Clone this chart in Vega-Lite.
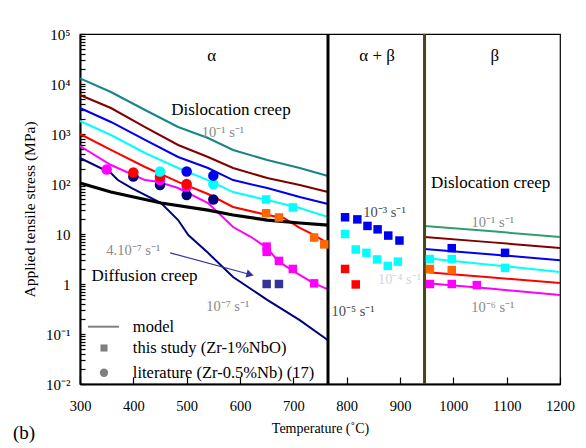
{
  "$schema": "https://vega.github.io/schema/vega-lite/v6.json",
  "width": 480,
  "height": 350,
  "autosize": {"type": "none"},
  "padding": {"left": 80, "top": 34, "right": 26, "bottom": 64},
  "background": "white",
  "config": {
    "view": {"stroke": "black", "strokeWidth": 1.2},
    "axis": {"domainColor": "black", "domainWidth": 2, "tickColor": "black", "tickWidth": 1.2, "labelColor": "black", "titleColor": "black", "grid": false, "labelFont": "Liberation Serif", "titleFont": "Liberation Serif", "titleFontWeight": "normal"}
  },
  "datasets": {
    "lines": [
      {"series": "1e-1a", "region": "a", "T": 300, "v": 13000}, {"series": "1e-1a", "region": "a", "T": 358, "v": 6920}, {"series": "1e-1a", "region": "a", "T": 422, "v": 3020}, {"series": "1e-1a", "region": "a", "T": 484, "v": 1380}, {"series": "1e-1a", "region": "a", "T": 540, "v": 832}, {"series": "1e-1a", "region": "a", "T": 587, "v": 479}, {"series": "1e-1a", "region": "a", "T": 651, "v": 302}, {"series": "1e-1a", "region": "a", "T": 712, "v": 209}, {"series": "1e-1a", "region": "a", "T": 765, "v": 145},
      {"series": "1e-2", "region": "a", "T": 300, "v": 6030}, {"series": "1e-2", "region": "a", "T": 358, "v": 3310}, {"series": "1e-2", "region": "a", "T": 422, "v": 1380}, {"series": "1e-2", "region": "a", "T": 484, "v": 603}, {"series": "1e-2", "region": "a", "T": 540, "v": 347}, {"series": "1e-2", "region": "a", "T": 587, "v": 209}, {"series": "1e-2", "region": "a", "T": 651, "v": 132}, {"series": "1e-2", "region": "a", "T": 712, "v": 95.5}, {"series": "1e-2", "region": "a", "T": 765, "v": 69},
      {"series": "1e-3", "region": "a", "T": 300, "v": 3310}, {"series": "1e-3", "region": "a", "T": 358, "v": 1740}, {"series": "1e-3", "region": "a", "T": 422, "v": 759}, {"series": "1e-3", "region": "a", "T": 484, "v": 347}, {"series": "1e-3", "region": "a", "T": 540, "v": 209}, {"series": "1e-3", "region": "a", "T": 587, "v": 120}, {"series": "1e-3", "region": "a", "T": 651, "v": 83}, {"series": "1e-3", "region": "a", "T": 712, "v": 55}, {"series": "1e-3", "region": "a", "T": 765, "v": 39.8},
      {"series": "1e-4", "region": "a", "T": 300, "v": 1820}, {"series": "1e-4", "region": "a", "T": 358, "v": 955}, {"series": "1e-4", "region": "a", "T": 422, "v": 417}, {"series": "1e-4", "region": "a", "T": 484, "v": 209}, {"series": "1e-4", "region": "a", "T": 540, "v": 120}, {"series": "1e-4", "region": "a", "T": 587, "v": 69}, {"series": "1e-4", "region": "a", "T": 651, "v": 47.9}, {"series": "1e-4", "region": "a", "T": 712, "v": 33}, {"series": "1e-4", "region": "a", "T": 765, "v": 21.9},
      {"series": "1e-5", "region": "a", "T": 300, "v": 1000}, {"series": "1e-5", "region": "a", "T": 358, "v": 479}, {"series": "1e-5", "region": "a", "T": 422, "v": 219}, {"series": "1e-5", "region": "a", "T": 484, "v": 110}, {"series": "1e-5", "region": "a", "T": 540, "v": 63}, {"series": "1e-5", "region": "a", "T": 587, "v": 34.7}, {"series": "1e-5", "region": "a", "T": 651, "v": 24}, {"series": "1e-5", "region": "a", "T": 682, "v": 20.9}, {"series": "1e-5", "region": "a", "T": 712, "v": 13.2}, {"series": "1e-5", "region": "a", "T": 731, "v": 10.5}, {"series": "1e-5", "region": "a", "T": 765, "v": 6.6},
      {"series": "1e-6", "region": "a", "T": 300, "v": 575}, {"series": "1e-6", "region": "a", "T": 358, "v": 240}, {"series": "1e-6", "region": "a", "T": 422, "v": 120}, {"series": "1e-6", "region": "a", "T": 446, "v": 111}, {"series": "1e-6", "region": "a", "T": 484, "v": 83}, {"series": "1e-6", "region": "a", "T": 540, "v": 41.7}, {"series": "1e-6", "region": "a", "T": 587, "v": 13.8}, {"series": "1e-6", "region": "a", "T": 620, "v": 8.8}, {"series": "1e-6", "region": "a", "T": 651, "v": 5.25}, {"series": "1e-6", "region": "a", "T": 671, "v": 2.9}, {"series": "1e-6", "region": "a", "T": 697, "v": 1.9}, {"series": "1e-6", "region": "a", "T": 737, "v": 1.05}, {"series": "1e-6", "region": "a", "T": 765, "v": 0.78},
      {"series": "1e-7", "region": "a", "T": 300, "v": 331}, {"series": "1e-7", "region": "a", "T": 358, "v": 166}, {"series": "1e-7", "region": "a", "T": 371, "v": 120}, {"series": "1e-7", "region": "a", "T": 397, "v": 83}, {"series": "1e-7", "region": "a", "T": 452, "v": 41.7}, {"series": "1e-7", "region": "a", "T": 484, "v": 19}, {"series": "1e-7", "region": "a", "T": 503, "v": 9.5}, {"series": "1e-7", "region": "a", "T": 540, "v": 4.2}, {"series": "1e-7", "region": "a", "T": 587, "v": 1.38}, {"series": "1e-7", "region": "a", "T": 651, "v": 0.48}, {"series": "1e-7", "region": "a", "T": 712, "v": 0.19}, {"series": "1e-7", "region": "a", "T": 765, "v": 0.075},
      {"series": "black", "region": "a", "T": 300, "v": 105}, {"series": "black", "region": "a", "T": 358, "v": 69}, {"series": "black", "region": "a", "T": 452, "v": 41.7}, {"series": "black", "region": "a", "T": 540, "v": 30}, {"series": "black", "region": "a", "T": 587, "v": 24}, {"series": "black", "region": "a", "T": 651, "v": 19}, {"series": "black", "region": "a", "T": 712, "v": 16.6}, {"series": "black", "region": "a", "T": 765, "v": 15.1},
      {"series": "1e-1b", "region": "b", "T": 946, "v": 14.5}, {"series": "1e-1b", "region": "b", "T": 1073, "v": 11.3}, {"series": "1e-1b", "region": "b", "T": 1200, "v": 8.7},
      {"series": "1e-2", "region": "b", "T": 946, "v": 8.7}, {"series": "1e-2", "region": "b", "T": 1073, "v": 6.8}, {"series": "1e-2", "region": "b", "T": 1200, "v": 5.25},
      {"series": "1e-3", "region": "b", "T": 946, "v": 5.0}, {"series": "1e-3", "region": "b", "T": 1073, "v": 3.9}, {"series": "1e-3", "region": "b", "T": 1200, "v": 3.0},
      {"series": "1e-4", "region": "b", "T": 946, "v": 3.3}, {"series": "1e-4", "region": "b", "T": 1073, "v": 2.4}, {"series": "1e-4", "region": "b", "T": 1200, "v": 1.74},
      {"series": "1e-5", "region": "b", "T": 946, "v": 1.74}, {"series": "1e-5", "region": "b", "T": 1073, "v": 1.35}, {"series": "1e-5", "region": "b", "T": 1200, "v": 1.05},
      {"series": "1e-6", "region": "b", "T": 946, "v": 1.05}, {"series": "1e-6", "region": "b", "T": 1073, "v": 0.8}, {"series": "1e-6", "region": "b", "T": 1200, "v": 0.6}
    ],
    "squares": [
      {"series": "1e-5o", "T": 649, "v": 26}, {"series": "1e-5o", "T": 673, "v": 21.4}, {"series": "1e-5o", "T": 739, "v": 8.5}, {"series": "1e-5o", "T": 758, "v": 6.2},
      {"series": "1e-4", "T": 649, "v": 49}, {"series": "1e-4", "T": 699, "v": 34},
      {"series": "1e-6", "T": 650, "v": 5.6}, {"series": "1e-6", "T": 650, "v": 4.4}, {"series": "1e-6", "T": 673, "v": 2.9}, {"series": "1e-6", "T": 699, "v": 2.0}, {"series": "1e-6", "T": 739, "v": 1.03},
      {"series": "4e-7", "T": 650, "v": 1.0}, {"series": "4e-7", "T": 673, "v": 1.0},
      {"series": "1e-3", "T": 797, "v": 21.6}, {"series": "1e-3", "T": 820, "v": 19.6}, {"series": "1e-3", "T": 839, "v": 14.5}, {"series": "1e-3", "T": 858, "v": 12.4}, {"series": "1e-3", "T": 878, "v": 9.3}, {"series": "1e-3", "T": 899, "v": 7.4},
      {"series": "1e-4", "T": 797, "v": 10}, {"series": "1e-4", "T": 817, "v": 4.9}, {"series": "1e-4", "T": 837, "v": 4.2}, {"series": "1e-4", "T": 857, "v": 3.1}, {"series": "1e-4", "T": 877, "v": 2.3}, {"series": "1e-4", "T": 896, "v": 2.8},
      {"series": "1e-5", "T": 797, "v": 2.0}, {"series": "1e-5", "T": 817, "v": 0.98},
      {"series": "1e-3", "T": 997, "v": 5.2}, {"series": "1e-3", "T": 1097, "v": 4.2},
      {"series": "1e-4", "T": 956, "v": 3.16}, {"series": "1e-4", "T": 997, "v": 3.16}, {"series": "1e-4", "T": 1097, "v": 2.1},
      {"series": "1e-5o", "T": 956, "v": 2.0}, {"series": "1e-5o", "T": 997, "v": 1.9},
      {"series": "1e-6", "T": 956, "v": 1.0}, {"series": "1e-6", "T": 997, "v": 1.0}, {"series": "1e-6", "T": 1044, "v": 0.95}
    ],
    "circles": [
      {"series": "1e-6", "T": 350, "v": 195},
      {"series": "1e-7", "T": 400, "v": 141}, {"series": "1e-5", "T": 400, "v": 170},
      {"series": "1e-7", "T": 450, "v": 95.5}, {"series": "1e-6", "T": 450, "v": 120}, {"series": "1e-5", "T": 450, "v": 140}, {"series": "1e-4", "T": 450, "v": 178},
      {"series": "1e-7", "T": 500, "v": 60}, {"series": "1e-6", "T": 500, "v": 88}, {"series": "1e-5", "T": 500, "v": 100}, {"series": "1e-3", "T": 500, "v": 178},
      {"series": "1e-7", "T": 550, "v": 49}, {"series": "1e-4", "T": 550, "v": 98.6}, {"series": "1e-3", "T": 550, "v": 147}
    ],
    "texts": [
      {"g": "big", "label": "Dislocation creep", "T": 583, "v": 3020},
      {"g": "big", "label": "Dislocation creep", "T": 1070, "v": 103},
      {"g": "big", "label": "Diffusion creep", "T": 421, "v": 1.45},
      {"g": "big", "label": "α", "T": 547, "v": 36300},
      {"g": "big", "label": "α + β", "T": 857, "v": 36300},
      {"g": "big", "label": "β", "T": 1078, "v": 36300},
      {"g": "gray", "label": "10⁻¹ s⁻¹", "T": 568, "v": 1030},
      {"g": "gray", "label": "10⁻¹ s⁻¹", "T": 1074, "v": 16.8},
      {"g": "gray", "label": "10⁻⁶ s⁻¹", "T": 1074, "v": 0.33},
      {"g": "gray", "label": "4.10⁻⁷ s⁻¹", "T": 400, "v": 4.6},
      {"g": "gray", "label": "10⁻⁷ s⁻¹", "T": 577, "v": 0.35},
      {"g": "dark", "label": "10⁻³ s⁻¹", "T": 871, "v": 26.7},
      {"g": "dark", "label": "10⁻⁵ s⁻¹", "T": 812, "v": 0.275},
      {"g": "light", "label": "10⁻⁴ s⁻¹", "T": 899, "v": 1.2},
      {"g": "legend", "label": "model", "T": 399, "v": 0.14},
      {"g": "legend", "label": "this study (Zr-1%NbO)", "T": 399, "v": 0.0525},
      {"g": "legend", "label": "literature (Zr-0.5%Nb) (17)", "T": 399, "v": 0.0168},
      {"g": "panel", "label": "(b)", "T": 195, "v": 0.00105}
    ]
  },
  "encoding": {
    "x": {"field": "T", "type": "quantitative", "scale": {"domain": [300, 1200], "nice": false, "zero": false},
      "axis": {"values": [300, 400, 500, 600, 700, 800, 900, 1000, 1100, 1200], "format": "d", "tickSize": -7, "labelPadding": 22, "labelFontSize": 14.5, "title": "Temperature (˚C)", "titleFontSize": 14, "titlePadding": 9, "labelFlush": false, "labelOverlap": false}},
    "y": {"field": "v", "type": "quantitative", "scale": {"type": "log", "domain": [0.01, 100000], "nice": false},
      "axis": {"values": [0.01, 0.02, 0.03, 0.04, 0.05, 0.06, 0.07, 0.08, 0.09, 0.1, 0.2, 0.3, 0.4, 0.5, 0.6, 0.7, 0.8, 0.9, 1, 2, 3, 4, 5, 6, 7, 8, 9, 10, 20, 30, 40, 50, 60, 70, 80, 90, 100, 200, 300, 400, 500, 600, 700, 800, 900, 1000, 2000, 3000, 4000, 5000, 6000, 7000, 8000, 9000, 10000, 20000, 30000, 40000, 50000, 60000, 70000, 80000, 90000, 100000],
        "labelExpr": "datum.value >= 99999 ? '10⁵' : abs(datum.value-10000) < 1 ? '10⁴' : abs(datum.value-1000) < 0.5 ? '10³' : abs(datum.value-100) < 0.05 ? '10²' : abs(datum.value-10) < 0.005 ? '10' : abs(datum.value-1) < 0.0005 ? '1' : abs(datum.value-0.1) < 0.00005 ? '10⁻¹' : abs(datum.value-0.01) < 0.000005 ? '10⁻²' : ''",
        "tickSize": -5, "labelPadding": 15, "labelFontSize": 15, "labelOverlap": false, "labelFlush": false, "labelBound": false,
        "title": "Applied tensile stress (MPa)", "titleFontSize": 15.5, "titlePadding": 8}}
  },
  "layer": [
    {"data": {"name": "lines"}, "transform": [{"filter": "datum.series != 'black'"}],
      "mark": {"type": "line", "strokeWidth": 2},
      "encoding": {"color": {"field": "series", "type": "nominal", "legend": null,
        "scale": {"domain": ["1e-1a", "1e-1b", "1e-2", "1e-3", "1e-4", "1e-5", "1e-5o", "1e-6", "1e-7", "4e-7"], "range": ["#178585", "#2e9e6e", "#800000", "#0000f0", "#00ffff", "#ff0000", "#ff6600", "#ff00ff", "#000080", "#333399"]}},
        "detail": {"field": "region", "type": "nominal"}}},
    {"data": {"name": "lines"}, "transform": [{"filter": "datum.series == 'black'"}],
      "mark": {"type": "line", "strokeWidth": 3.2, "color": "black"}, "encoding": {}},
    {"data": {"values": [{"T": 765, "v": 0.01, "v2": 100000}]},
      "mark": {"type": "rule", "strokeWidth": 3, "color": "black"}, "encoding": {"y2": {"field": "v2"}}},
    {"data": {"values": [{"T": 946, "v": 0.01, "v2": 100000}]},
      "mark": {"type": "rule", "strokeWidth": 3, "color": "#48451c"}, "encoding": {"y2": {"field": "v2"}}},
    {"data": {"name": "circles"},
      "mark": {"type": "point", "shape": "circle", "filled": true, "opacity": 1, "size": 110},
      "encoding": {"color": {"field": "series", "type": "nominal", "legend": null}}},
    {"data": {"name": "squares"},
      "mark": {"type": "point", "shape": "square", "filled": true, "opacity": 1, "size": 72},
      "encoding": {"color": {"field": "series", "type": "nominal", "legend": null}}},
    {"data": {"values": [{"T": 469, "v": 4.2, "T2": 619, "v2": 1.55}]},
      "mark": {"type": "rule", "strokeWidth": 1.2, "color": "#333399"},
      "encoding": {"x2": {"field": "T2"}, "y2": {"field": "v2"}}},
    {"data": {"values": [{"T": 619, "v": 1.55}]},
      "mark": {"type": "point", "shape": "triangle-right", "filled": true, "opacity": 1, "size": 70, "angle": 15, "color": "#333399"}, "encoding": {}},
    {"data": {"values": [{"T": 315, "v": 0.14, "T2": 373}]},
      "mark": {"type": "rule", "strokeWidth": 2, "color": "#808080"}, "encoding": {"x2": {"field": "T2"}}},
    {"data": {"values": [{"T": 345, "v": 0.0525}]},
      "mark": {"type": "point", "shape": "square", "filled": true, "opacity": 1, "size": 50, "color": "#808080"}, "encoding": {}},
    {"data": {"values": [{"T": 345, "v": 0.0168}]},
      "mark": {"type": "point", "shape": "circle", "filled": true, "opacity": 1, "size": 70, "color": "#808080"}, "encoding": {}},
    {"data": {"name": "texts"}, "transform": [{"filter": "datum.g == 'big'"}],
      "mark": {"type": "text", "font": "Liberation Serif", "fontSize": 17, "color": "black", "baseline": "middle", "align": "center"},
      "encoding": {"text": {"field": "label"}}},
    {"data": {"name": "texts"}, "transform": [{"filter": "datum.g == 'gray'"}],
      "mark": {"type": "text", "font": "Liberation Serif", "fontSize": 14.5, "color": "#8a8a8a", "baseline": "middle", "align": "center"},
      "encoding": {"text": {"field": "label"}}},
    {"data": {"name": "texts"}, "transform": [{"filter": "datum.g == 'dark'"}],
      "mark": {"type": "text", "font": "Liberation Serif", "fontSize": 14.5, "color": "#4a4a4a", "baseline": "middle", "align": "center"},
      "encoding": {"text": {"field": "label"}}},
    {"data": {"name": "texts"}, "transform": [{"filter": "datum.g == 'light'"}],
      "mark": {"type": "text", "font": "Liberation Serif", "fontSize": 14.5, "color": "#d6d6d6", "baseline": "middle", "align": "center"},
      "encoding": {"text": {"field": "label"}}},
    {"data": {"name": "texts"}, "transform": [{"filter": "datum.g == 'legend'"}],
      "mark": {"type": "text", "font": "Liberation Serif", "fontSize": 16.5, "color": "black", "baseline": "middle", "align": "left"},
      "encoding": {"text": {"field": "label"}}},
    {"data": {"name": "texts"}, "transform": [{"filter": "datum.g == 'panel'"}],
      "mark": {"type": "text", "font": "Liberation Serif", "fontSize": 19, "color": "black", "baseline": "middle", "align": "center"},
      "encoding": {"text": {"field": "label"}}}
  ]
}
